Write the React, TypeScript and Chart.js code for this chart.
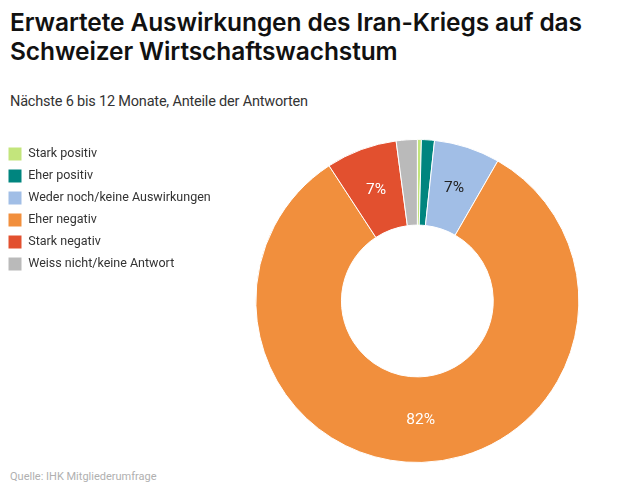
import { Chart, registerables } from "chart.js";
import { useEffect, useRef } from "react";

Chart.register(...registerables);

// values (shares of answers, %)
const categories = [
  "Stark positiv",
  "Eher positiv",
  "Weder noch/keine Auswirkungen",
  "Eher negativ",
  "Stark negativ",
  "Weiss nicht/keine Antwort",
];
const shares = [0.4, 1.3, 6.6, 82.5, 7.1, 2.1];
const shownLabels = ["", "", "7%", "82%", "7%", ""];
const colors = ["#c3e57c", "#00857f", "#a1bee6", "#f18f3d", "#e2502f", "#bababa"];
const labelColors = ["#fff", "#fff", "#222", "#fff", "#fff", "#fff"];

const sliceLabels = {
  id: "sliceLabels",
  afterDatasetsDraw(chart: any) {
    const ctx = chart.ctx;
    const meta = chart.getDatasetMeta(0);
    ctx.save();
    ctx.font = "15.5px Roboto, 'Liberation Sans', sans-serif";
    ctx.textAlign = "center";
    ctx.textBaseline = "middle";
    meta.data.forEach((arc: any, i: number) => {
      if (!shownLabels[i]) return;
      const p = arc.tooltipPosition();
      ctx.fillStyle = labelColors[i];
      ctx.fillText(shownLabels[i], p.x, p.y);
    });
    ctx.restore();
  },
};

export default function App() {
  const canvasRef = useRef<HTMLCanvasElement | null>(null);

  useEffect(() => {
    document.body.style.margin = "0";
    if (!canvasRef.current) return;
    const chart = new Chart(canvasRef.current, {
      type: "doughnut",
      data: {
        labels: categories,
        datasets: [
          {
            data: shares,
            backgroundColor: colors,
            borderColor: "#fff",
            borderWidth: 1,
          },
        ],
      },
      options: {
        animation: false,
        responsive: false,
        cutout: "47%",
        layout: { padding: { right: 22, top: 0, bottom: 0 } },
        plugins: {
          tooltip: { enabled: false },
          legend: {
            position: "left",
            align: "start",
            labels: {
              boxWidth: 14,
              boxHeight: 14,
              padding: 8,
              color: "#333",
              font: { family: "Roboto, 'Liberation Sans', sans-serif", size: 12.5 },
            },
          },
        },
      },
      plugins: [sliceLabels],
    });
    return () => chart.destroy();
  }, []);

  return (
    <div
      style={{
        position: "relative",
        width: 636,
        height: 495,
        background: "#fff",
        fontFamily: "Inter, 'Liberation Sans', sans-serif",
        overflow: "hidden",
      }}
    >
      <div
        style={{
          position: "absolute",
          left: 10,
          top: 8,
          fontSize: 24.5,
          fontWeight: 600,
          lineHeight: "29px",
          color: "#111",
          letterSpacing: -0.1,
        }}
      >
        Erwartete Auswirkungen des Iran-Kriegs auf das
        <br />
        Schweizer Wirtschaftswachstum
      </div>
      <div
        style={{
          position: "absolute",
          left: 10,
          top: 93,
          fontSize: 14.5,
          color: "#333",
          fontFamily: "Roboto, sans-serif",
          letterSpacing: -0.2,
        }}
      >
        Nächste 6 bis 12 Monate, Anteile der Antworten
      </div>
      <canvas
        ref={canvasRef}
        width={636}
        height={324}
        style={{ position: "absolute", left: 0, top: 139 }}
      />
      <div
        style={{
          position: "absolute",
          left: 10,
          top: 470,
          fontSize: 11,
          color: "#b0b0b0",
          fontFamily: "Roboto, sans-serif",
        }}
      >
        Quelle: IHK Mitgliederumfrage
      </div>
    </div>
  );
}
